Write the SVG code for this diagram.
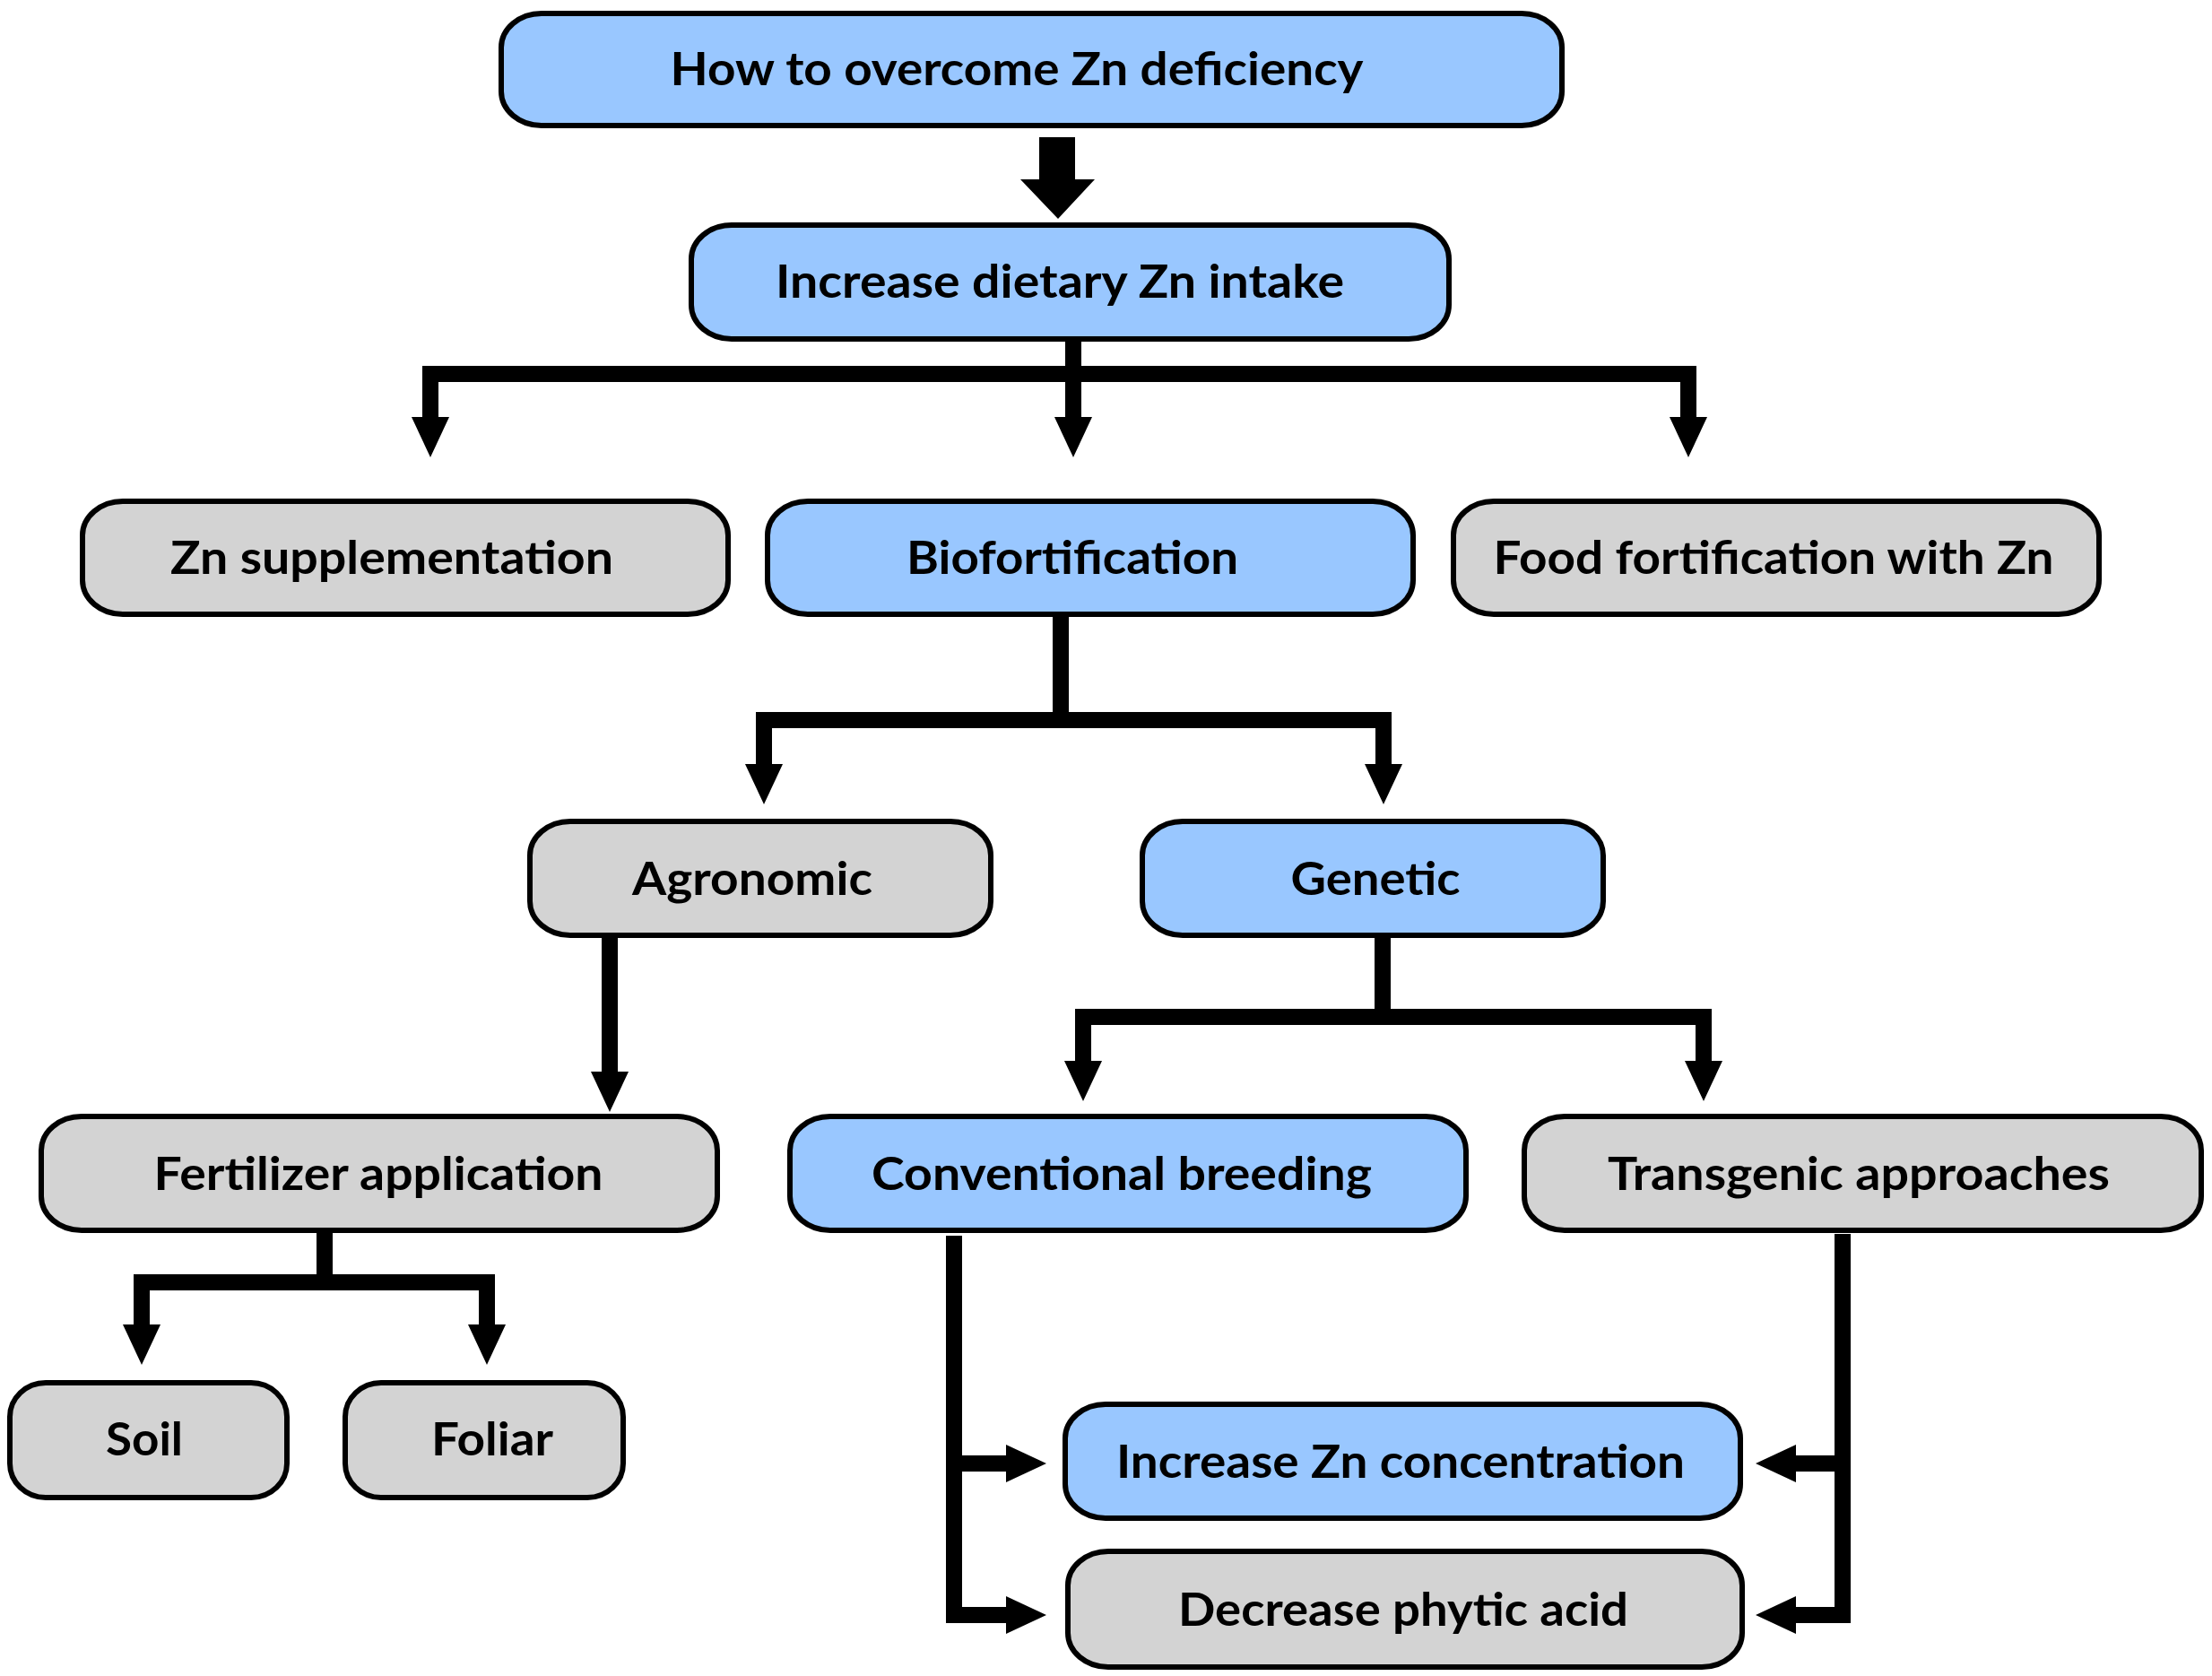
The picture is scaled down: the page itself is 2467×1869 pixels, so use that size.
<svg xmlns="http://www.w3.org/2000/svg" width="2467" height="1869" viewBox="0 0 2467 1869">
<defs>
<style>
.blue{fill:#99C7FF;stroke:#000;stroke-width:6}
.gray{fill:#D3D3D3;stroke:#000;stroke-width:6}
.lbl{font-family:Lato,"Liberation Sans",sans-serif;font-weight:700;font-size:51px;fill:#000;text-anchor:middle}
.con{fill:none;stroke:#000;stroke-width:18;stroke-linejoin:miter;stroke-linecap:butt}
</style>
<marker id="ah" viewBox="0 0 45 42" refX="0" refY="21" markerWidth="45" markerHeight="42" markerUnits="userSpaceOnUse" orient="auto-start-reverse">
<path d="M0 0 L45 21 L0 42 Z" fill="#000"/>
</marker>
</defs>
<rect width="2467" height="1869" fill="#fff"/>
<g id="connectors">
<polygon points="1159,153 1199,153 1199,200 1221,200 1180,244 1138,200 1159,200" fill="#000"/>
<path class="con" d="M1197 381 V465" marker-end="url(#ah)"/>
<path class="con" d="M480 465 V417 H1883 V465" marker-start="url(#ah)" marker-end="url(#ah)"/>
<path class="con" d="M1183 687 V803"/>
<path class="con" d="M852 852 V803 H1543 V852" marker-start="url(#ah)" marker-end="url(#ah)"/>
<path class="con" d="M680 1046 V1195" marker-end="url(#ah)"/>
<path class="con" d="M1542 1046 V1134"/>
<path class="con" d="M1208 1183 V1134 H1900 V1183" marker-start="url(#ah)" marker-end="url(#ah)"/>
<path class="con" d="M362 1375 V1430"/>
<path class="con" d="M158 1477 V1430 H543 V1477" marker-start="url(#ah)" marker-end="url(#ah)"/>
<path class="con" d="M1064 1378 V1801 H1122" marker-end="url(#ah)"/>
<path class="con" d="M1064 1632 H1122" marker-end="url(#ah)"/>
<path class="con" d="M2055 1376 V1801 H2003" marker-end="url(#ah)"/>
<path class="con" d="M2055 1632 H2003" marker-end="url(#ah)"/>
</g>
<g id="n1"><rect class="blue" x="559" y="15" width="1183" height="125" rx="45" ry="38"/><text class="lbl" x="1134" y="95" textLength="773" lengthAdjust="spacingAndGlyphs">How to overcome Zn deficiency</text></g>
<g id="n2"><rect class="blue" x="771" y="251" width="845" height="127" rx="45" ry="38"/><text class="lbl" x="1182" y="332" textLength="634" lengthAdjust="spacingAndGlyphs">Increase dietary Zn intake</text></g>
<g id="n3"><rect class="gray" x="92" y="559" width="720" height="126" rx="45" ry="38"/><text class="lbl" x="437" y="640" textLength="494" lengthAdjust="spacingAndGlyphs">Zn supplementation</text></g>
<g id="n4"><rect class="blue" x="856" y="559" width="720" height="126" rx="45" ry="38"/><text class="lbl" x="1196" y="640" textLength="370" lengthAdjust="spacingAndGlyphs">Biofortification</text></g>
<g id="n5"><rect class="gray" x="1621" y="559" width="720" height="126" rx="45" ry="38"/><text class="lbl" x="1978" y="640" textLength="625" lengthAdjust="spacingAndGlyphs">Food fortification with Zn</text></g>
<g id="n6"><rect class="gray" x="591" y="916" width="514" height="127" rx="45" ry="38"/><text class="lbl" x="839" y="998" textLength="268" lengthAdjust="spacingAndGlyphs">Agronomic</text></g>
<g id="n7"><rect class="blue" x="1274" y="916" width="514" height="127" rx="45" ry="38"/><text class="lbl" x="1534" y="998" textLength="189" lengthAdjust="spacingAndGlyphs">Genetic</text></g>
<g id="n8"><rect class="gray" x="46" y="1245" width="754" height="127" rx="45" ry="38"/><text class="lbl" x="422" y="1327" textLength="501" lengthAdjust="spacingAndGlyphs">Fertilizer application</text></g>
<g id="n9"><rect class="blue" x="881" y="1245" width="754" height="127" rx="45" ry="38"/><text class="lbl" x="1251" y="1327" textLength="558" lengthAdjust="spacingAndGlyphs">Conventional breeding</text></g>
<g id="n10"><rect class="gray" x="1700" y="1245" width="755" height="127" rx="45" ry="38"/><text class="lbl" x="2073" y="1327" textLength="560" lengthAdjust="spacingAndGlyphs">Transgenic approaches</text></g>
<g id="n11"><rect class="gray" x="11" y="1542" width="309" height="128" rx="40" ry="38"/><text class="lbl" x="161" y="1623" textLength="86" lengthAdjust="spacingAndGlyphs">Soil</text></g>
<g id="n12"><rect class="gray" x="385" y="1542" width="310" height="128" rx="40" ry="38"/><text class="lbl" x="549" y="1623" textLength="136" lengthAdjust="spacingAndGlyphs">Foliar</text></g>
<g id="n13"><rect class="blue" x="1188" y="1566" width="753" height="127" rx="45" ry="38"/><text class="lbl" x="1562" y="1648" textLength="634" lengthAdjust="spacingAndGlyphs">Increase Zn concentration</text></g>
<g id="n14"><rect class="gray" x="1191" y="1730" width="752" height="129" rx="45" ry="38"/><text class="lbl" x="1565" y="1813" textLength="502" lengthAdjust="spacingAndGlyphs">Decrease phytic acid</text></g>
</svg>
